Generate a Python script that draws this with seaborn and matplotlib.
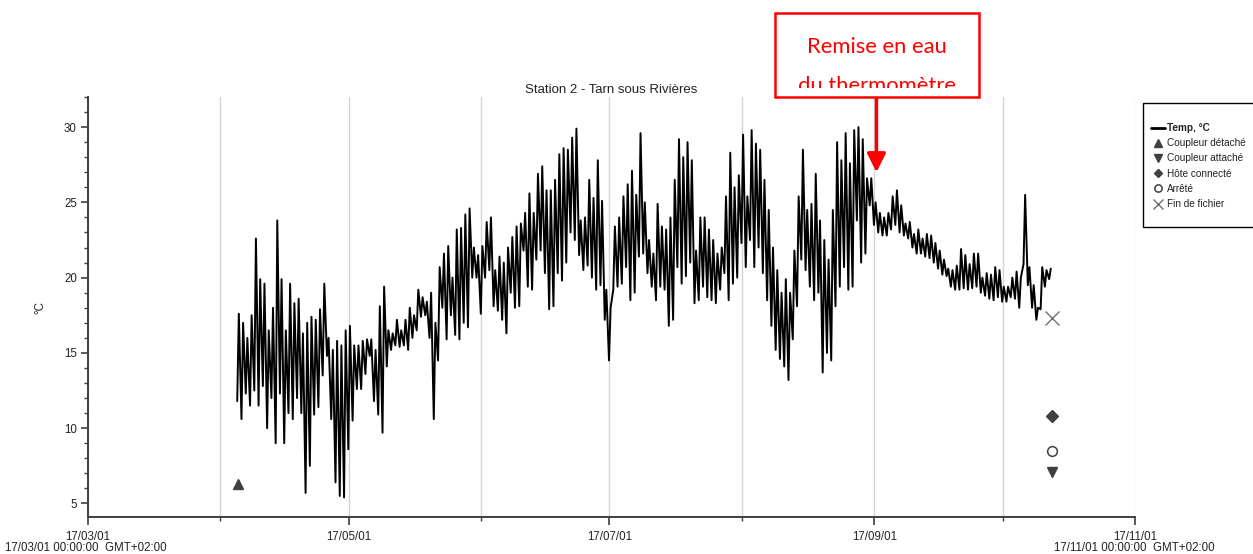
import numpy as np
import pandas as pd
import matplotlib
matplotlib.use("Agg")
import matplotlib.pyplot as plt
import matplotlib.dates as mdates
from matplotlib.patches import Rectangle
from matplotlib.lines import Line2D
from matplotlib.ticker import MultipleLocator
import seaborn as sns

# ---------------- data ----------------
title = "Station 2 - Tarn sous Rivières"
y_label = "°C"
series_label = "Temp, °C"
first_day = "2017-04-05"

daily_max = [
    17.6, 17.0, 16.0, 17.5, 22.6, 19.9, 19.6, 16.5, 18.0, 23.8,
    19.9, 16.5, 19.6, 18.3, 18.6, 16.3, 17.0, 17.4, 17.2, 17.9,
    19.6, 16.0, 15.2, 15.8, 15.5, 16.5, 16.8, 15.5, 15.5, 15.8,
    15.9, 15.9, 15.2, 18.1, 19.4, 16.5, 16.3, 17.2, 16.5, 17.2,
    18.0, 17.5, 19.2, 18.7, 18.4, 19.0, 17.0, 20.7, 21.6, 22.1,
    20.0, 23.2, 23.3, 24.2, 24.6, 22.0, 21.5, 22.1, 23.7, 24.0,
    20.5, 21.4, 21.0, 22.0, 22.7, 23.4, 23.6, 24.3, 25.6, 24.3,
    26.9, 27.4, 25.8, 25.8, 26.5, 28.2, 28.6, 28.5, 29.3, 29.9,
    23.8, 24.0, 26.5, 25.3, 27.8, 25.1, 19.2, 18.0, 23.4, 24.0,
    25.4, 26.2, 27.1, 25.5, 29.6, 25.0, 22.5, 21.6, 24.9, 23.4,
    23.2, 24.0, 26.5, 29.2, 28.0, 29.0, 27.8, 21.8, 24.0, 24.0,
    23.2, 22.5, 21.6, 22.0, 25.4, 28.3, 26.0, 26.8, 29.5, 25.4,
    29.8, 28.9, 28.5, 26.5, 24.5, 22.0, 20.5, 19.0, 19.9, 19.0,
    21.8, 25.4, 28.5, 24.5, 24.9, 26.9, 23.8, 22.5, 21.2, 24.5,
    29.0, 27.8, 29.6, 27.6, 29.8, 30.0, 29.2, 26.6, 26.6, 25.0,
    24.3, 24.0, 24.3, 25.4, 25.8, 24.8, 23.6, 23.7, 22.9, 23.2,
    22.6, 22.9, 22.8, 22.3, 21.8, 21.2, 20.6, 20.5, 20.8, 21.9,
    21.5, 20.9, 21.6, 21.6, 20.0, 20.3, 20.2, 20.7, 20.5, 19.4,
    19.4, 20.0, 20.4, 20.0, 25.5, 20.7, 19.5, 18.0, 20.7, 20.5,
    20.6,
]

daily_min = [
    11.8, 10.6, 12.3, 11.5, 12.5, 11.5, 12.8, 10.0, 12.0, 9.0,
    12.3, 9.0, 11.0, 10.6, 12.0, 11.0, 5.7, 7.5, 10.9, 11.4,
    13.5, 14.8, 10.6, 6.4, 5.5, 5.4, 8.6, 10.5, 12.6, 12.6,
    13.6, 14.8, 11.8, 10.9, 9.7, 14.1, 15.2, 15.5, 15.4, 15.5,
    15.2, 16.0, 16.5, 17.4, 17.5, 16.0, 10.6, 14.5, 18.0, 15.9,
    17.5, 16.2, 15.9, 17.0, 16.7, 20.0, 20.0, 17.6, 20.0, 20.5,
    18.1, 17.8, 17.2, 16.3, 19.0, 18.0, 18.1, 21.8, 19.4, 19.2,
    21.2, 21.8, 20.3, 17.9, 18.1, 20.3, 19.8, 21.0, 23.0, 22.5,
    21.5, 20.5, 20.8, 20.0, 19.2, 19.5, 17.2, 14.5, 19.2, 19.4,
    19.6, 20.7, 18.5, 19.0, 21.4, 21.6, 20.3, 19.4, 18.5, 19.4,
    19.2, 16.8, 17.2, 20.7, 19.6, 20.1, 21.0, 18.3, 18.5, 19.4,
    18.7, 18.5, 18.3, 19.2, 20.3, 18.5, 19.6, 20.0, 22.3, 20.7,
    22.5, 20.7, 22.0, 20.3, 18.5, 16.8, 15.2, 14.6, 14.1, 13.2,
    15.9, 18.1, 21.2, 20.5, 19.4, 18.5, 19.0, 13.7, 15.0, 14.5,
    18.1, 19.4, 20.7, 19.2, 19.4, 23.8, 21.0, 21.6, 24.8, 23.5,
    23.0, 22.8, 22.8, 23.2, 23.5, 23.0, 22.8, 22.6, 22.0, 21.6,
    21.6, 21.4, 21.3, 21.0, 20.6, 20.2, 20.1, 19.4, 19.2, 19.2,
    19.3, 19.2, 19.3, 19.4, 19.0, 18.8, 18.6, 18.5, 18.7, 18.4,
    18.4, 18.7, 18.6, 18.0, 20.9, 19.5, 18.0, 17.2, 17.9, 19.4,
    19.9,
]

event_labels = ["Coupleur détaché", "Coupleur attaché", "Hôte connecté", "Arrêté", "Fin de fichier"]
event_times = ["2017-04-05 00:00", "2017-10-12 14:00", "2017-10-12 14:00",
               "2017-10-12 14:00", "2017-10-12 14:00"]
event_values = [6.3, 7.1, 10.8, 8.5, 17.3]

x_start = "2017-03-01"
x_end = "2017-11-01"
edge_labels = ["17/03/01 00:00:00  GMT+02:00", "17/11/01 00:00:00  GMT+02:00"]

note_lines = ["Remise en eau", "du thermomètre"]
note_time = "2017-09-01 12:00"
note_value = 27.0

# ---------------- build series ----------------
days = pd.date_range(first_day, periods=len(daily_max), freq="D")
times, temps = [], []
for d, lo, hi in zip(days, daily_min, daily_max):
    times += [d - pd.Timedelta(hours=2), d + pd.Timedelta(hours=7)]
    temps += [lo, hi]
df = pd.DataFrame({"time": times, "temp": temps})

# ---------------- style ----------------
sns.set_theme(style="white")
plt.rcParams["font.family"] = ["Liberation Sans", "DejaVu Sans"]

W, H = 1253, 554
fig = plt.figure(figsize=(W / 100, H / 100), dpi=100)
ax = fig.add_axes([88 / W, 1 - 517 / H, (1135 - 88) / W, (517 - 97) / H])

dark = "#404040"
txt = "#222222"
sns.lineplot(data=df, x="time", y="temp", ax=ax, color="black", lw=1.4,
             estimator=None, sort=False, legend=False)

marker_styles = [
    dict(marker="^", color=dark, ms=7, ls="none"),
    dict(marker="v", color=dark, ms=7, ls="none"),
    dict(marker="D", color=dark, ms=6, ls="none"),
    dict(marker="o", mfc="white", mec=dark, mew=1.1, ms=7, ls="none"),
    dict(marker="x", color="#707070", mew=1.0, ms=10, ls="none"),
]
for t, v, st in zip(event_times, event_values, marker_styles):
    ax.plot([pd.Timestamp(t)], [v], **st)

ax.set_xlim(pd.Timestamp(x_start), pd.Timestamp(x_end))
ax.set_ylim(4.1, 32.0)

ax.xaxis.set_major_locator(mdates.MonthLocator(bymonth=[3, 5, 7, 9, 11]))
ax.xaxis.set_minor_locator(mdates.MonthLocator(bymonth=[4, 6, 8, 10]))
ax.xaxis.set_major_formatter(mdates.DateFormatter("%y/%m/%d"))
ax.yaxis.set_major_locator(MultipleLocator(5))
ax.yaxis.set_minor_locator(MultipleLocator(1))

ax.grid(True, which="both", axis="x", color="#d4d4d4", lw=1.0)
ax.grid(False, axis="y")
for s in ["top", "right"]:
    ax.spines[s].set_visible(False)
for s in ["left", "bottom"]:
    ax.spines[s].set_color(dark)
    ax.spines[s].set_linewidth(1.4)

ax.tick_params(axis="both", which="major", direction="out", length=5, width=1.2,
               color=dark, labelsize=8.3, labelcolor=txt, pad=3,
               left=True, bottom=True)
ax.tick_params(axis="both", which="minor", direction="out", length=3, width=1.0,
               color=dark, left=True, bottom=True)
ax.tick_params(axis="x", which="major", length=6, pad=4)

ax.set_xlabel("")
ax.set_ylabel(y_label, fontsize=8.3, color=txt)
ax.yaxis.set_label_coords((46 - 88) / (1135 - 88), 0.5)

fig.text(611.5 / W, 1 - 90 / H, title, ha="center", va="center", fontsize=9.5, color=txt)
fig.text(86 / W, 1 - 548 / H, edge_labels[0], ha="center", va="center", fontsize=8.3, color=txt)
fig.text(1134 / W, 1 - 548 / H, edge_labels[1], ha="center", va="center", fontsize=8.3, color=txt)

# legend (frame drawn separately, extends beyond the right edge as in the original)
frame = Rectangle((1143 / W, 1 - 227 / H), (1270 - 1143) / W, (227 - 103) / H,
                  transform=fig.transFigure, facecolor="white", edgecolor="black", lw=1.0)
fig.add_artist(frame)
handles = [Line2D([], [], color="black", lw=2)]
for st in marker_styles:
    s = dict(st)
    s["ms"] = s["ms"] * 0.75
    handles.append(Line2D([], [], **s))
leg = fig.legend(handles, [series_label] + event_labels, loc="upper left",
                 bbox_to_anchor=(1151 / W, 1 - 123 / H), borderaxespad=0,
                 borderpad=0, fontsize=7.2, frameon=False, labelspacing=0.52,
                 handlelength=1.4, handletextpad=0.2)
leg.get_texts()[0].set_fontweight("bold")
for t in leg.get_texts():
    t.set_color(txt)

# annotation box + arrow
box = Rectangle((775 / W, 1 - 97 / H), (979 - 775) / W, (97 - 13) / H,
                transform=fig.transFigure, facecolor="white", edgecolor="red", lw=1.8)
fig.add_artist(box)
clip = Rectangle((775 / W, 1 - 88 / H), (979 - 775) / W, (88 - 13) / H,
                 transform=fig.transFigure, facecolor="none", edgecolor="none")
fig.add_artist(clip)
fig.text(877 / W, 1 - 53 / H, note_lines[0], ha="center", va="baseline",
         fontsize=15.8, color="red", family=["Lato", "DejaVu Sans"])
t2 = fig.text(877 / W, 1 - 92 / H, note_lines[1], ha="center", va="baseline",
              fontsize=15.8, color="red", family=["Lato", "DejaVu Sans"])
t2.set_clip_path(clip)

ax.annotate("", xy=(pd.Timestamp(note_time), note_value),
            xytext=(pd.Timestamp(note_time), 31.95),
            arrowprops=dict(arrowstyle="-|>,head_length=0.4,head_width=0.2",
                            color="red", lw=2.5, mutation_scale=28,
                            shrinkA=0, shrinkB=0),
            annotation_clip=False)

fig.savefig("out.png", dpi=100)
